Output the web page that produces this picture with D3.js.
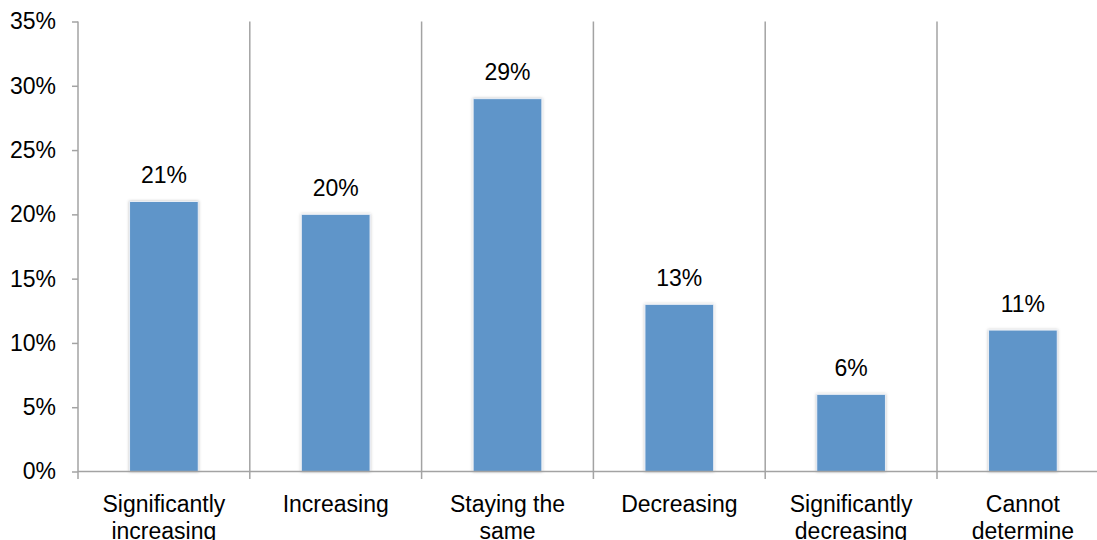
<!DOCTYPE html>
<html>
<head>
<meta charset="utf-8">
<script src="https://cdn.jsdelivr.net/npm/d3@7"></script>
<style>
  html, body { margin: 0; padding: 0; background: #fff; }
  svg { display: block; font-family: "Liberation Sans", Arial, sans-serif; }
</style>
</head>
<body>
<svg id="chart" width="1097" height="540"></svg>
<script>
// Trend categories and the share of responses for each
const categories = [
  ["Significantly", "increasing"],
  ["Increasing"],
  ["Staying the", "same"],
  ["Decreasing"],
  ["Significantly", "decreasing"],
  ["Cannot", "determine"]
];
const values = [21, 20, 29, 13, 6, 11];
const yTicks = [0, 5, 10, 15, 20, 25, 30, 35];

const svg = d3.select("#chart");
const plotLeft = 78, plotTop = 21.5, plotBottom = 471.5, step = 171.8;
const plotRight = plotLeft + step * categories.length;
const fontSize = "23px";

const x = d3.scaleBand()
  .domain(d3.range(categories.length))
  .range([plotLeft, plotRight])
  .padding(0);
const y = d3.scaleLinear().domain([0, 35]).range([plotBottom, plotTop]);

const axisColor = "#a3a3a3";

// soft drop shadow behind the bars
const defs = svg.append("defs");
const f = defs.append("filter").attr("id", "shadow")
  .attr("x", "-20%").attr("y", "-20%").attr("width", "140%").attr("height", "140%");
f.append("feDropShadow").attr("dx", 0).attr("dy", 0).attr("stdDeviation", 1.6)
  .attr("flood-color", "#000").attr("flood-opacity", 0.25);

// category separators, running a few px below the baseline
svg.append("g").selectAll("line")
  .data(d3.range(1, categories.length + 1))
  .join("line")
  .attr("x1", i => x(i - 1) + x.bandwidth())
  .attr("x2", i => x(i - 1) + x.bandwidth())
  .attr("y1", plotTop)
  .attr("y2", plotBottom + 7.5)
  .attr("stroke", axisColor)
  .attr("stroke-width", 1.5);

// y axis
const yAxis = d3.axisLeft(y)
  .tickValues(yTicks)
  .tickFormat(d => d + "%")
  .tickSize(6)
  .tickPadding(16);
const gy = svg.append("g").attr("transform", `translate(${plotLeft},0)`).call(yAxis);
gy.select(".domain").remove();
gy.selectAll(".tick line").attr("stroke", axisColor).attr("stroke-width", 1.5);
gy.selectAll(".tick text")
  .attr("fill", "#000")
  .style("font-size", fontSize)
  .style("font-family", "'Liberation Sans', Arial, sans-serif");
svg.append("line")
  .attr("x1", plotLeft).attr("x2", plotLeft)
  .attr("y1", plotTop).attr("y2", plotBottom + 7.5)
  .attr("stroke", axisColor).attr("stroke-width", 1.5);

// bars
const barW = x.bandwidth() * 0.4;
svg.append("g").selectAll("rect")
  .data(values)
  .join("rect")
  .attr("x", (d, i) => x(i) + (x.bandwidth() - barW) / 2)
  .attr("y", d => y(d))
  .attr("width", barW)
  .attr("height", d => y(0) - y(d))
  .attr("fill", "#5f95c9")
  .attr("stroke", "#e9eef5")
  .attr("stroke-width", 1)
  .attr("filter", "url(#shadow)");

// x baseline, drawn over the bar shadows
svg.append("line")
  .attr("x1", plotLeft).attr("x2", plotRight)
  .attr("y1", plotBottom).attr("y2", plotBottom)
  .attr("stroke", axisColor).attr("stroke-width", 1.5);

// value labels
svg.append("g").selectAll("text")
  .data(values)
  .join("text")
  .attr("x", (d, i) => x(i) + x.bandwidth() / 2)
  .attr("y", d => y(d) - 18.5)
  .attr("text-anchor", "middle")
  .attr("fill", "#000")
  .style("font-size", fontSize)
  .text(d => d + "%");

// category labels (wrapped onto two lines)
const cat = svg.append("g").selectAll("text")
  .data(categories)
  .join("text")
  .attr("x", (d, i) => x(i) + x.bandwidth() / 2)
  .attr("y", 511.5)
  .attr("text-anchor", "middle")
  .attr("fill", "#000")
  .style("font-size", fontSize);
cat.selectAll("tspan")
  .data(d => d)
  .join("tspan")
  .attr("x", function () { return d3.select(this.parentNode).attr("x"); })
  .attr("dy", (d, i) => i === 0 ? 0 : 27)
  .text(d => d);
</script>
</body>
</html>
